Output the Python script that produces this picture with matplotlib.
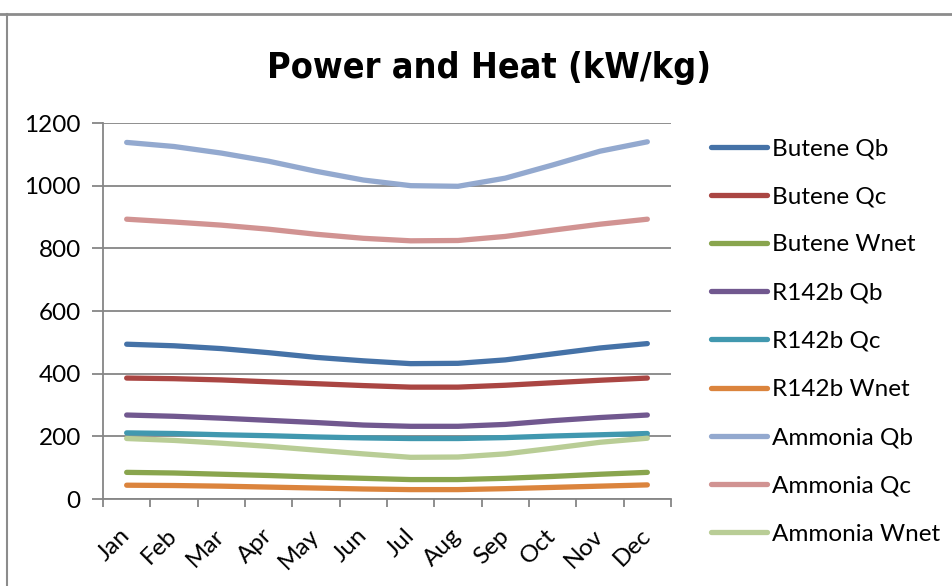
import matplotlib
matplotlib.use('Agg')
import matplotlib.pyplot as plt
from matplotlib import font_manager
from matplotlib.lines import Line2D

months = ['Jan', 'Feb', 'Mar', 'Apr', 'May', 'Jun',
          'Jul', 'Aug', 'Sep', 'Oct', 'Nov', 'Dec']

butene_qb = [494, 489, 480, 467, 452, 441, 432, 433, 444, 463, 482, 496]
butene_qc = [386, 384, 380, 374, 368, 362, 357, 357, 363, 371, 379, 386]
butene_wnet = [85, 83, 79, 75, 70, 66, 62, 62, 66, 72, 79, 85]
r142b_qb = [268, 264, 258, 251, 244, 236, 232, 232, 238, 250, 260, 268]
r142b_qc = [211, 209, 205, 202, 198, 195, 193, 193, 196, 201, 205, 209]
r142b_wnet = [44, 43, 41, 38, 35, 32, 30, 30, 33, 37, 41, 45]
ammonia_qb = [1138, 1125, 1104, 1078, 1046, 1018, 1000, 998, 1024, 1066, 1110, 1140]
ammonia_qc = [893, 884, 874, 861, 845, 832, 824, 825, 838, 858, 877, 893]
ammonia_wnet = [193, 187, 178, 168, 156, 144, 133, 134, 144, 162, 181, 194]

series_names = ['Butene Qb', 'Butene Qc', 'Butene Wnet',
                'R142b Qb', 'R142b Qc', 'R142b Wnet',
                'Ammonia Qb', 'Ammonia Qc', 'Ammonia Wnet']
series = [butene_qb, butene_qc, butene_wnet,
          r142b_qb, r142b_qc, r142b_wnet,
          ammonia_qb, ammonia_qc, ammonia_wnet]
colors = ['#4572A7', '#AA4643', '#89A54E', '#71588F', '#4198AF',
          '#DB843D', '#93A9CF', '#D19392', '#B9CD96']

label_font = ['Lato', 'DejaVu Sans']
grey = '#868686'


def pick_title_font():
    ''' narrow bold sans if one is installed, else plain Liberation Sans bold '''
    for f in font_manager.fontManager.ttflist:
        narrow = ('Narrow' in f.name or 'Condensed' in f.name
                  or str(f.stretch) in ('condensed', 'semi-condensed'))
        bold = str(f.weight) in ('bold', '700')
        if narrow and bold and 'Mono' not in f.name and 'Serif' not in f.name:
            return font_manager.FontProperties(fname=f.fname)
    return font_manager.FontProperties(family='Liberation Sans', weight='bold')


fig = plt.figure(figsize=(9.53, 5.86), dpi=100)
ax = fig.add_axes([103 / 953, 1 - 499 / 586, 568 / 953, 376 / 586])

x = list(range(len(months)))
for name, vals, col in zip(series_names, series, colors):
    ax.plot(x, vals, color=col, lw=3.8, solid_capstyle='round',
            solid_joinstyle='round', label=name)

ax.set_xlim(-0.5, 11.5)
ax.set_ylim(0, 1200)
ax.set_yticks(range(0, 1201, 200))
ax.set_xticks([i - 0.5 for i in range(13)])
ax.set_xticklabels([])
ax.set_xticks(x, minor=True)
ax.set_xticklabels(months, minor=True, rotation=45, ha='right', va='center',
                   rotation_mode='anchor', family=label_font, fontsize=17.5)
ax.tick_params(axis='x', which='minor', length=0, pad=24)
ax.tick_params(axis='x', which='major', length=6, width=1.3, color=grey,
               direction='out')
ax.tick_params(axis='y', length=8, width=1.3, color=grey, direction='out',
               pad=8)
for lab in ax.get_yticklabels():
    lab.set_family(label_font)
    lab.set_fontsize(17.5)

ax.grid(axis='y', color=grey, lw=1.3)
ax.set_axisbelow(True)
for side in ['top', 'right']:
    ax.spines[side].set_visible(False)
for side in ['left', 'bottom']:
    ax.spines[side].set_color(grey)
    ax.spines[side].set_linewidth(1.3)

# title: fit to the width of the original (about 445 px), cap height <= 33 px
tprop = pick_title_font()
tprop.set_size(25)
title = fig.text(489 / 953, 1 - 78 / 586, 'Power and Heat (kW/kg)',
                 fontproperties=tprop, ha='center', va='baseline')
renderer = fig.canvas.get_renderer()
w = title.get_window_extent(renderer).width
title.set_fontsize(min(25 * 445 / w, 33 / 0.716 / 1.389))

leg = fig.legend(loc='upper left', bbox_to_anchor=(711 / 953, 1 - 138 / 586),
                 frameon=False, prop={'family': label_font, 'size': 17.5},
                 handlelength=2.3, handletextpad=0.2, labelspacing=1.12,
                 borderpad=0, borderaxespad=0)
for h in leg.get_lines():
    h.set_linewidth(3.8)
    h.set_solid_capstyle('round')

# worksheet border around the chart
fig.add_artist(Line2D([0, 1], [1 - 14 / 586] * 2, color='#8c8c8c', lw=2))
fig.add_artist(Line2D([7 / 953] * 2, [0, 1 - 14 / 586], color='#8c8c8c', lw=1.5))

fig.savefig('out.png', dpi=100)
